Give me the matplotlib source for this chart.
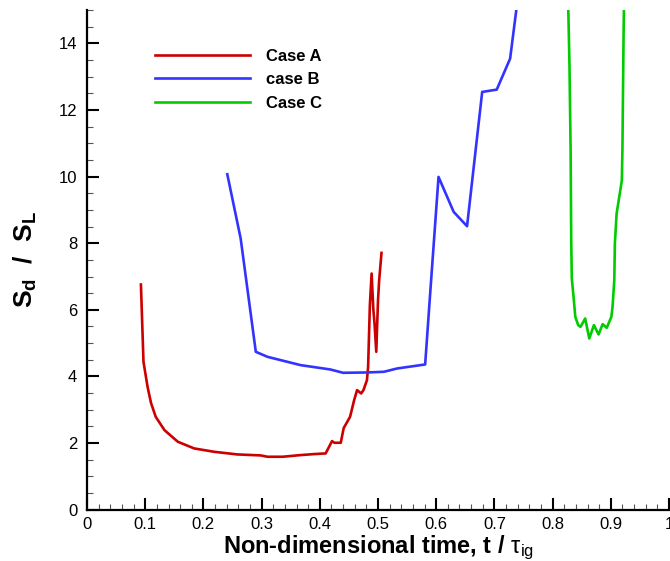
import matplotlib
matplotlib.use("Agg")
import matplotlib.pyplot as plt
from matplotlib.ticker import MultipleLocator, FixedLocator, FuncFormatter

plt.rcParams['font.family'] = ['Liberation Sans', 'DejaVu Sans']
plt.rcParams['mathtext.fontset'] = 'custom'
plt.rcParams['mathtext.rm'] = 'Liberation Sans'
plt.rcParams['mathtext.it'] = 'Liberation Sans:italic'
plt.rcParams['mathtext.bf'] = 'Liberation Sans:bold'

# Displacement speed histories vs non-dimensional time
case_a_t = [0.0926, 0.097, 0.104, 0.110, 0.118, 0.133, 0.156, 0.184, 0.218, 0.258,
            0.2985, 0.310, 0.336, 0.367, 0.390, 0.410, 0.421, 0.425, 0.436, 0.441,
            0.452, 0.459, 0.464, 0.471, 0.475, 0.481, 0.483, 0.486, 0.489, 0.492,
            0.494, 0.497, 0.500, 0.502, 0.506]
case_a_s = [6.76, 4.44, 3.69, 3.20, 2.79, 2.39, 2.04, 1.84, 1.74, 1.66,
            1.63, 1.59, 1.59, 1.64, 1.67, 1.69, 2.06, 2.01, 2.01, 2.45,
            2.79, 3.29, 3.59, 3.49, 3.59, 3.89, 4.29, 6.14, 7.09, 6.0,
            5.59, 4.74, 6.29, 6.89, 7.71]

case_b_t = [0.241, 0.264, 0.290, 0.310, 0.367, 0.418, 0.440, 0.481, 0.510, 0.533,
            0.581, 0.589, 0.604, 0.630, 0.653, 0.679, 0.704, 0.727, 0.742]
case_b_s = [10.07, 8.14, 4.74, 4.59, 4.34, 4.21, 4.11, 4.12, 4.14, 4.24,
            4.36, 6.34, 9.99, 8.94, 8.51, 12.54, 12.61, 13.54, 15.6]

case_c_t = [0.826, 0.827, 0.829, 0.831, 0.832, 0.833, 0.836, 0.839, 0.844, 0.848,
            0.856, 0.863, 0.871, 0.879, 0.886, 0.893, 0.901, 0.903, 0.906, 0.907,
            0.910, 0.915, 0.919, 0.920, 0.921, 0.922, 0.923]
case_c_s = [15.6, 14.99, 13.34, 10.74, 8.09, 6.94, 6.39, 5.79, 5.54, 5.49,
            5.74, 5.14, 5.54, 5.26, 5.57, 5.46, 5.79, 6.09, 6.89, 7.99,
            8.89, 9.44, 9.89, 10.84, 12.59, 14.34, 15.6]

x_ticks = [0, 0.1, 0.2, 0.3, 0.4, 0.5, 0.6, 0.7, 0.8, 0.9, 1.0]
y_ticks = [0, 2, 4, 6, 8, 10, 12, 14]

fig = plt.figure(figsize=(6.7, 5.61), dpi=100)
ax = fig.add_axes([0.1299, 0.0914, 0.8686, 0.8908])

lw = 1.9
ax.plot(case_a_t, case_a_s, color='#cc0000', lw=lw, label='Case A')
ax.plot(case_b_t, case_b_s, color='#3333ff', lw=lw, label='case B')
ax.plot(case_c_t, case_c_s, color='#00cc00', lw=lw, label='Case C')

ax.set_xlim(0, 1)
ax.set_ylim(0, 15)
ax.xaxis.set_major_locator(FixedLocator(x_ticks))
ax.yaxis.set_major_locator(FixedLocator(y_ticks))
ax.xaxis.set_minor_locator(MultipleLocator(0.02))
ax.yaxis.set_minor_locator(MultipleLocator(0.5))
ax.xaxis.set_major_formatter(FuncFormatter(lambda v, p: f"{v:g}"))

for s in ['top', 'right']:
    ax.spines[s].set_visible(False)
for s in ['left', 'bottom']:
    ax.spines[s].set_linewidth(1.6)

ax.tick_params(which='major', direction='in', length=8.6, width=1.5,
               labelsize=12, top=False, right=False)
ax.tick_params(axis='y', which='major', pad=7)
ax.tick_params(axis='x', which='major', pad=5.5)
ax.tick_params(which='minor', direction='in', length=4.3, width=0.8,
               color='#555555', top=False, right=False)

ax.set_xlabel(r'Non-dimensional time, t / $\mathrm{\tau}_{\mathrm{ig}}$',
              fontsize=17, fontweight='bold', labelpad=1)
ax.set_ylabel(r'$\mathbf{S_d}\ \ \mathbf{/}\ \ \mathbf{S_L}$', fontsize=19,
              fontweight='bold', labelpad=14)

leg = ax.legend(loc='upper left', bbox_to_anchor=(0.116, 0.922), frameon=False,
                handlelength=5.7, handletextpad=1.0,
                labelspacing=0.5, borderpad=0, borderaxespad=0,
                prop={'weight': 'bold', 'size': 12})

fig.savefig('out.png', dpi=100)
